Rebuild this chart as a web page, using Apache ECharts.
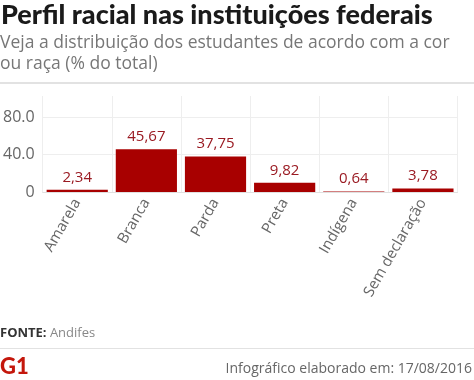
<!DOCTYPE html>
<html><head><meta charset="utf-8">
<script src="https://cdn.jsdelivr.net/npm/echarts@6/dist/echarts.min.js"></script>
<style>html,body{margin:0;padding:0;background:#fff}#c{width:474px;height:380px}</style>
</head><body><div id="c"></div>
<script>
const categories = ['Amarela', 'Branca', 'Parda', 'Preta', 'Indígena', 'Sem declaração'];
const values = [2.34, 45.67, 37.75, 9.82, 0.64, 3.78];
const yTicks = [0, 40, 80];

const chart = echarts.init(document.getElementById('c'));
chart.setOption({
  animation: false,
  backgroundColor: '#fff',
  grid: { left: 37.5, right: 16.5, top: 96, bottom: 188, containLabel: false },
  xAxis: {
    type: 'category', data: categories,
    axisLine: { show: true, lineStyle: { color: '#e0e0e0' } },
    axisTick: { show: false },
    splitLine: { show: true, lineStyle: { color: '#eeeeee' } },
    axisLabel: { rotate: 60, color: '#666', fontFamily: 'Open Sans', fontSize: 15, margin: 8, interval: 0 }
  },
  yAxis: {
    type: 'value', min: 0, max: 102.4, interval: 40,
    axisLine: { show: false }, axisTick: { show: false },
    splitLine: { show: true, lineStyle: { color: ['#eeeeee', '#eeeeee', '#eeeeee', 'rgba(0,0,0,0)'] } },
    axisLabel: {
      color: '#666', fontFamily: 'Open Sans', fontSize: 16, margin: 8, showMaxLabel: false,
      formatter: v => yTicks.includes(v) ? (v === 0 ? '0' : v.toFixed(1)) : ''
    }
  },
  series: [{
    type: 'bar', data: values, barCategoryGap: '11.5%',
    itemStyle: { color: '#a80000' },
    label: {
      show: true, position: 'top', distance: 5, color: '#9a1a22',
      fontFamily: 'Open Sans', fontSize: 15,
      formatter: p => String(p.value).replace('.', ',')
    }
  }],
  graphic: [
    { type: 'text', left: 1, top: 2, style: { text: 'Perfil racial nas instituições federais', font: '900 27px Lato', fill: '#1a1a1a' } },
    { type: 'text', left: 0, top: 33, style: { text: 'Veja a distribuição dos estudantes de acordo com a cor\nou raça (% do total)', font: '17.5px "Open Sans"', fill: '#777', lineHeight: 21 } },
    { type: 'rect', shape: { x: 0, y: 82, width: 474, height: 2 }, style: { fill: '#e2e2e2' } },
    { type: 'text', left: 0, top: 327, style: { rich: { a: { font: 'bold 13px "Open Sans"', fill: '#333' }, b: { font: '13px "Open Sans"', fill: '#888' } }, text: '{a|FONTE:} {b|Andifes}' } },
    { type: 'rect', shape: { x: 0, y: 348, width: 474, height: 1 }, style: { fill: '#e2e2e2' } },
    { type: 'text', left: 0, top: 356, style: { text: 'G1', font: '900 22px Lato', fill: '#c4170c' } },
    { type: 'text', right: 2, top: 362, style: { text: 'Infográfico elaborado em: 17/08/2016', font: '14px "Open Sans"', fill: '#666' } }
  ]
});
</script></body></html>
